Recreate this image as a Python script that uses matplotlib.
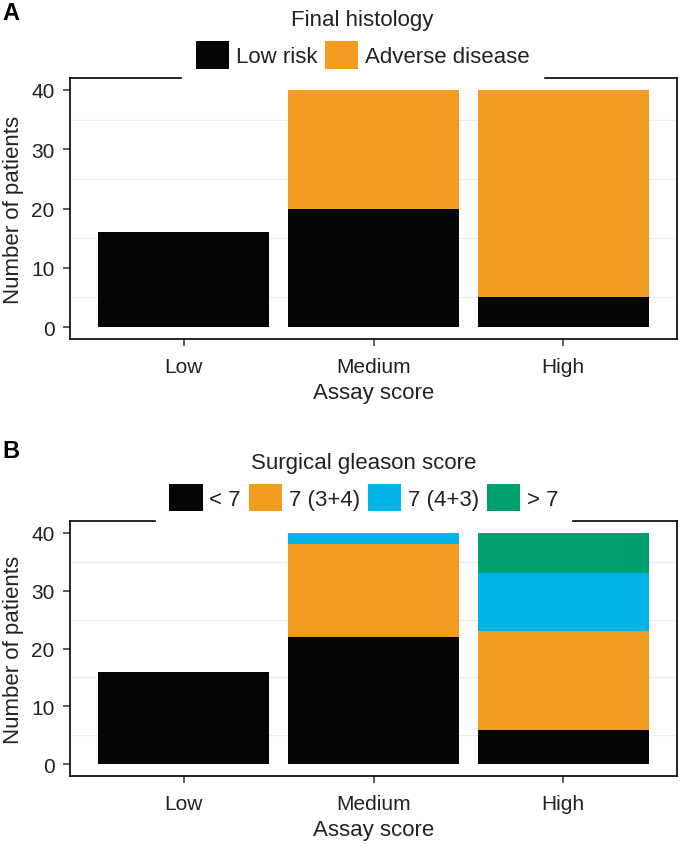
import matplotlib.pyplot as plt
from matplotlib.patches import Patch

plt.rcParams['font.family'] = ['Liberation Sans', 'DejaVu Sans']

# data
scores = ['Low', 'Medium', 'High']

hist_labels = ['Low risk', 'Adverse disease']
hist_values = [
    [16, 20, 5],   # Low risk
    [0, 20, 35],   # Adverse disease
]
hist_colors = ['#050505', '#F39C1F']

gleason_labels = ['< 7', '7 (3+4)', '7 (4+3)', '> 7']
gleason_values = [
    [16, 22, 6],   # < 7
    [0, 16, 17],   # 7 (3+4)
    [0, 2, 10],    # 7 (4+3)
    [0, 0, 7],     # > 7
]
gleason_colors = ['#050505', '#F39C1F', '#00B4EA', '#00A06E']

txt = '#222222'
W, H = 680, 853
fig = plt.figure(figsize=(W / 100, H / 100), dpi=100)


def panel(rect, values, labels, colors, title, legend_x):
    ax = fig.add_axes(rect)
    x = range(len(scores))
    bottom = [0] * len(scores)
    for vals, lab, col in zip(values, labels, colors):
        ax.bar(x, vals, bottom=bottom, width=0.9, color=col, label=lab, zorder=3)
        bottom = [b + v for b, v in zip(bottom, vals)]

    ax.set_xlim(-0.6, 2.6)
    ax.set_ylim(-2, 42)
    ax.set_xticks(list(x))
    ax.set_xticklabels(scores)
    ax.set_yticks([0, 10, 20, 30, 40])
    # faint ggplot-style minor grid
    for g in [5, 15, 25, 35]:
        ax.axhline(g, color='#eeeeee', lw=0.8, zorder=1)

    for s in ax.spines.values():
        s.set_color('black')
        s.set_linewidth(1.2)
    ax.tick_params(axis='both', direction='out', length=5, width=1.1,
                   color='#333333', labelcolor=txt, labelsize=15)
    ax.tick_params(axis='y', pad=6)
    ax.tick_params(axis='x', pad=8)
    ax.set_xlabel('Assay score', fontsize=16, color=txt, labelpad=4)
    ax.set_ylabel('Number of patients', fontsize=16, color=txt, labelpad=5)

    handles = [Patch(facecolor=c, edgecolor='none') for c in colors]
    leg = ax.legend(handles, labels, title=title, loc='lower center',
                    bbox_to_anchor=(legend_x, 0.985), ncol=len(labels),
                    frameon=True, fancybox=False, facecolor='white',
                    edgecolor='white', framealpha=1, fontsize=16,
                    title_fontsize=16, handlelength=1.5, handleheight=1.5,
                    handletextpad=0.3, columnspacing=0.35, borderpad=0.6,
                    labelspacing=0.5, borderaxespad=0)
    for t in leg.get_texts():
        t.set_color(txt)
    leg.get_title().set_color(txt)
    return ax


axA = panel([70 / W, 1 - 340 / H, 607 / W, 261 / H],
            hist_values, hist_labels, hist_colors, 'Final histology', 0.482)
axB = panel([70 / W, 1 - 777 / H, 607 / W, 255 / H],
            gleason_values, gleason_labels, gleason_colors,
            'Surgical gleason score', 0.484)

fig.text(0.003, 1 - 13 / H, 'A', fontsize=17, fontweight='bold', va='center')
fig.text(0.003, 1 - 452 / H, 'B', fontsize=17, fontweight='bold', va='center')

fig.savefig('out.png', dpi=100)
